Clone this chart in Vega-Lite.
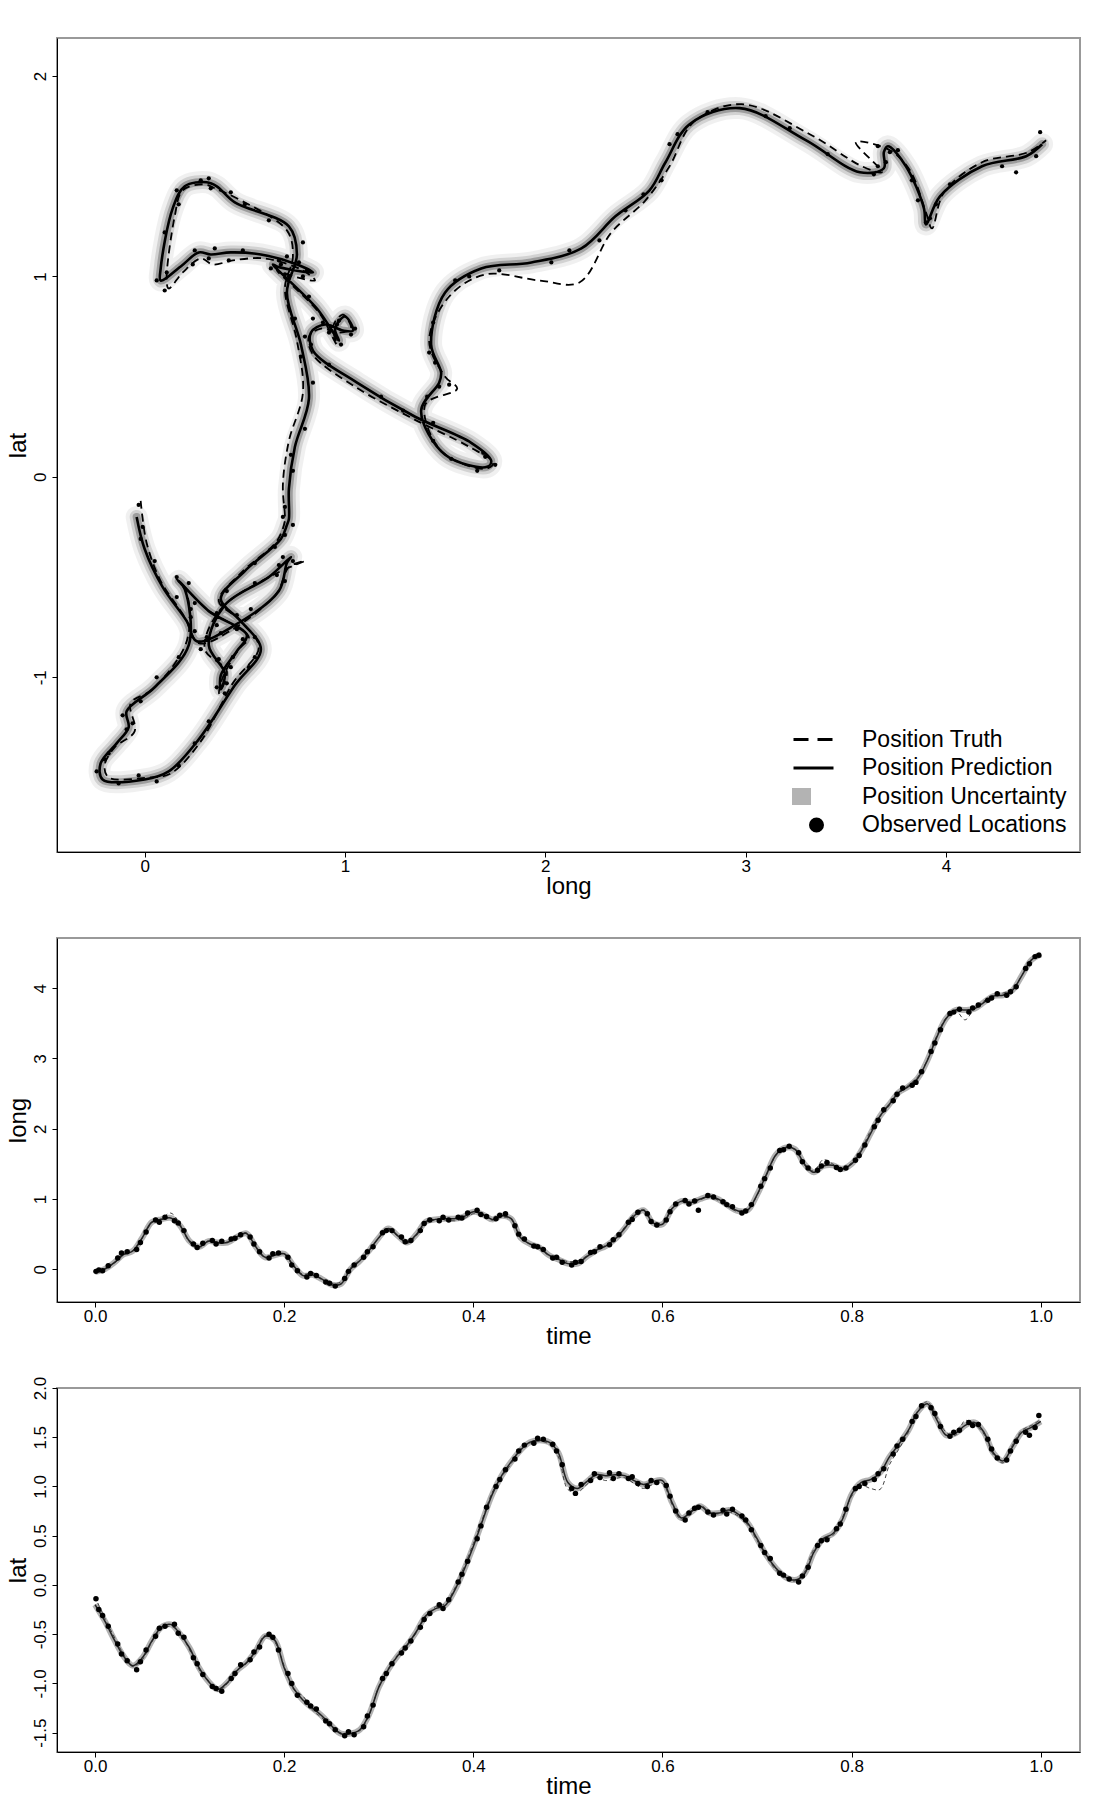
{
"$schema": "https://vega.github.io/schema/vega-lite/v6.json",
"padding": {"left": 4, "top": 37, "right": 5, "bottom": 5},
"vconcat": [
{
"width": 1023, "height": 814,
"encoding": {
 "x": {"field": "long", "type": "quantitative", "scale": {"domain": [-0.4376, 4.669], "nice": false, "zero": false}, "axis": {"values": [0, 1, 2, 3, 4], "title": "long", "labelExpr": "replace(format(datum.value, 'd'), '\u2212', '-')"}},
 "y": {"field": "lat", "type": "quantitative", "scale": {"domain": [-1.872, 2.19], "nice": false, "zero": false}, "axis": {"values": [-1, 0, 1, 2], "title": "lat", "labelExpr": "replace(format(datum.value, 'd'), '\u2212', '-')"}},
 "order": {"field": "time", "type": "quantitative"}
},
"layer": [
 {"data": {"name": "pred"}, "mark": {"type": "line", "interpolate": "catmull-rom", "color": "#000000", "strokeWidth": 22, "opacity": 0.06, "strokeCap": "round", "strokeJoin": "round"}},
 {"data": {"name": "pred"}, "mark": {"type": "line", "interpolate": "catmull-rom", "color": "#000000", "strokeWidth": 14, "opacity": 0.12, "strokeCap": "round", "strokeJoin": "round"}},
 {"data": {"name": "pred"}, "mark": {"type": "line", "interpolate": "catmull-rom", "color": "#000000", "strokeWidth": 8, "opacity": 0.25, "strokeCap": "round", "strokeJoin": "round"}},
 {"data": {"name": "truth"}, "mark": {"type": "line", "interpolate": "catmull-rom", "strokeWidth": 1.8, "strokeDash": [8, 5]},
  "encoding": {"color": {"datum": "Position Truth", "type": "nominal",
   "scale": {"domain": ["Position Truth", "Position Prediction", "Position Uncertainty", "Observed Locations"], "range": ["#000000", "#000000", "#b3b3b3", "#000000"]},
   "legend": {"orient": "none", "legendX": 735, "legendY": 690, "title": null, "padding": 0, "labelFont": "Liberation Sans", "labelFontSize": 23, "labelColor": "#000000", "labelOffset": 47, "labelLimit": 400, "symbolSize": 400, "rowPadding": 1.5, "gridAlign": "all", "symbolStrokeWidth": 3,
    "encode": {"symbols": {"update": {
     "shape": {"signal": "datum.value === 'Position Uncertainty' ? 'M-1,-0.7H0.6V0.7H-1Z' : datum.value === 'Observed Locations' ? 'M0.7,0A0.6,0.6,0,1,1,1.9,0A0.6,0.6,0,1,1,0.7,0Z' : 'M-1,0H3'"},
     "fill": {"signal": "datum.value === 'Position Uncertainty' ? '#b3b3b3' : datum.value === 'Observed Locations' ? '#000000' : 'transparent'"},
     "stroke": {"signal": "datum.value === 'Position Truth' || datum.value === 'Position Prediction' ? '#000000' : 'transparent'"},
     "strokeDash": {"signal": "datum.value === 'Position Truth' ? [15, 9] : []"},
     "strokeWidth": {"value": 3},
     "size": {"value": 400},
     "opacity": {"value": 1}
    }}}
   }}}},
 {"data": {"name": "pred"}, "mark": {"type": "line", "interpolate": "catmull-rom", "strokeWidth": 2.6}, "encoding": {"color": {"datum": "Position Prediction", "type": "nominal"}}},
 {"data": {"name": "obs"}, "mark": {"type": "circle", "size": 18, "opacity": 1}, "encoding": {"color": {"datum": "Observed Locations", "type": "nominal"}}}
]
},
{
"width": 1023, "height": 364,
"encoding": {
 "x": {"field": "time", "type": "quantitative", "scale": {"domain": [-0.0402, 1.0415], "nice": false, "zero": false}, "axis": {"values": [0, 0.2, 0.4, 0.6, 0.8, 1], "format": ".1f", "title": "time"}},
 "y": {"field": "long", "type": "quantitative", "scale": {"domain": [-0.466, 4.715], "nice": false, "zero": false}, "axis": {"values": [0, 1, 2, 3, 4], "format": "d", "title": "long"}},
 "order": {"field": "time", "type": "quantitative"}
},
"layer": [
 {"data": {"name": "pred"}, "mark": {"type": "line", "interpolate": "catmull-rom", "color": "#aaaaaa", "strokeWidth": 6, "opacity": 0.9}},
 {"data": {"name": "truth"}, "mark": {"type": "line", "interpolate": "catmull-rom", "color": "#444444", "strokeWidth": 1, "strokeDash": [4, 3]}},
 {"data": {"name": "pred"}, "mark": {"type": "line", "interpolate": "catmull-rom", "color": "#222222", "strokeWidth": 1.5}},
 {"data": {"name": "obs"}, "mark": {"type": "circle", "size": 30, "color": "#000000", "opacity": 1}}
]
},
{
"width": 1023, "height": 364,
"encoding": {
 "x": {"field": "time", "type": "quantitative", "scale": {"domain": [-0.0402, 1.0415], "nice": false, "zero": false}, "axis": {"values": [0, 0.2, 0.4, 0.6, 0.8, 1], "format": ".1f", "title": "time"}},
 "y": {"field": "lat", "type": "quantitative", "scale": {"domain": [-1.696, 2.0], "nice": false, "zero": false}, "axis": {"values": [-1.5, -1, -0.5, 0, 0.5, 1, 1.5, 2], "title": "lat", "labelExpr": "replace(format(datum.value, '.1f'), '\u2212', '-')"}},
 "order": {"field": "time", "type": "quantitative"}
},
"layer": [
 {"data": {"name": "pred"}, "mark": {"type": "line", "interpolate": "catmull-rom", "color": "#aaaaaa", "strokeWidth": 6, "opacity": 0.9}},
 {"data": {"name": "truth"}, "mark": {"type": "line", "interpolate": "catmull-rom", "color": "#444444", "strokeWidth": 1, "strokeDash": [4, 3]}},
 {"data": {"name": "pred"}, "mark": {"type": "line", "interpolate": "catmull-rom", "color": "#222222", "strokeWidth": 1.5}},
 {"data": {"name": "obs"}, "mark": {"type": "circle", "size": 30, "color": "#000000", "opacity": 1}}
]
}
],
"spacing": 86,
"bounds": "flush",
"config": {
 "font": "Liberation Sans",
 "view": {"stroke": "#999999", "strokeWidth": 2},
 "axis": {"grid": false, "labelFont": "Liberation Sans", "labelFontSize": 17, "labelColor": "#000000", "titleFont": "Liberation Sans", "titleFontSize": 24, "titleFontWeight": "normal", "titleColor": "#000000", "tickColor": "#000000", "tickSize": 5, "domainColor": "#000000", "labelPadding": 1},
 "axisY": {"labelAngle": 270, "titlePadding": 1, "labelPadding": 3},
 "axisX": {"titlePadding": 0}
},
"datasets": {
"pred": [
{"time":0.00,"long":-0.04,"lat":-0.20},{"time":0.01,"long":0.00,"lat":-0.36},{"time":0.02,"long":0.09,"lat":-0.55},{"time":0.03,"long":0.21,"lat":-0.72},{"time":0.04,"long":0.26,"lat":-0.82},
{"time":0.05,"long":0.45,"lat":-0.74},{"time":0.06,"long":0.67,"lat":-0.57},{"time":0.07,"long":0.71,"lat":-0.43},{"time":0.08,"long":0.73,"lat":-0.40},{"time":0.09,"long":0.62,"lat":-0.50},
{"time":0.10,"long":0.40,"lat":-0.64},{"time":0.11,"long":0.32,"lat":-0.84},{"time":0.12,"long":0.40,"lat":-0.98},{"time":0.13,"long":0.38,"lat":-1.06},{"time":0.14,"long":0.38,"lat":-0.99},
{"time":0.15,"long":0.46,"lat":-0.87},{"time":0.16,"long":0.51,"lat":-0.79},{"time":0.17,"long":0.32,"lat":-0.67},{"time":0.18,"long":0.17,"lat":-0.52},{"time":0.19,"long":0.20,"lat":-0.56},
{"time":0.20,"long":0.22,"lat":-0.84},{"time":0.21,"long":0.05,"lat":-1.05},{"time":0.22,"long":-0.09,"lat":-1.17},{"time":0.23,"long":-0.08,"lat":-1.25},{"time":0.24,"long":-0.14,"lat":-1.33},
{"time":0.25,"long":-0.22,"lat":-1.43},{"time":0.26,"long":-0.21,"lat":-1.51},{"time":0.27,"long":0.00,"lat":-1.51},{"time":0.28,"long":0.12,"lat":-1.47},{"time":0.29,"long":0.27,"lat":-1.31},
{"time":0.30,"long":0.45,"lat":-1.04},{"time":0.31,"long":0.58,"lat":-0.86},{"time":0.32,"long":0.48,"lat":-0.72},{"time":0.33,"long":0.38,"lat":-0.61},{"time":0.34,"long":0.50,"lat":-0.47},
{"time":0.35,"long":0.68,"lat":-0.31},{"time":0.36,"long":0.71,"lat":-0.24},{"time":0.37,"long":0.72,"lat":-0.21},{"time":0.38,"long":0.72,"lat":-0.06},{"time":0.39,"long":0.75,"lat":0.15},
{"time":0.40,"long":0.82,"lat":0.39},{"time":0.41,"long":0.78,"lat":0.66},{"time":0.42,"long":0.71,"lat":0.92},{"time":0.43,"long":0.76,"lat":1.11},{"time":0.44,"long":0.72,"lat":1.25},
{"time":0.45,"long":0.45,"lat":1.37},{"time":0.46,"long":0.36,"lat":1.45},{"time":0.47,"long":0.31,"lat":1.47},{"time":0.48,"long":0.20,"lat":1.45},{"time":0.49,"long":0.14,"lat":1.34},
{"time":0.50,"long":0.08,"lat":1.04},{"time":0.51,"long":0.08,"lat":0.98},{"time":0.52,"long":0.18,"lat":1.05},{"time":0.53,"long":0.27,"lat":1.12},{"time":0.54,"long":0.33,"lat":1.11},
{"time":0.55,"long":0.43,"lat":1.12},{"time":0.56,"long":0.58,"lat":1.11},{"time":0.57,"long":0.76,"lat":1.06},{"time":0.58,"long":0.84,"lat":1.02},{"time":0.59,"long":0.66,"lat":1.05},
{"time":0.60,"long":0.64,"lat":1.06},{"time":0.61,"long":0.86,"lat":0.84},{"time":0.62,"long":0.97,"lat":0.68},{"time":0.63,"long":0.95,"lat":0.74},{"time":0.64,"long":1.00,"lat":0.80},
{"time":0.65,"long":1.04,"lat":0.73},{"time":0.66,"long":0.99,"lat":0.73},{"time":0.67,"long":0.90,"lat":0.76},{"time":0.68,"long":0.83,"lat":0.72},{"time":0.69,"long":0.84,"lat":0.63},
{"time":0.70,"long":1.06,"lat":0.47},{"time":0.71,"long":1.35,"lat":0.30},{"time":0.72,"long":1.63,"lat":0.17},{"time":0.73,"long":1.73,"lat":0.08},{"time":0.74,"long":1.71,"lat":0.05},
{"time":0.75,"long":1.50,"lat":0.11},{"time":0.76,"long":1.38,"lat":0.33},{"time":0.77,"long":1.47,"lat":0.47},{"time":0.78,"long":1.48,"lat":0.52},{"time":0.79,"long":1.43,"lat":0.66},
{"time":0.80,"long":1.50,"lat":0.92},{"time":0.81,"long":1.68,"lat":1.04},{"time":0.82,"long":1.93,"lat":1.07},{"time":0.83,"long":2.18,"lat":1.14},{"time":0.84,"long":2.35,"lat":1.30},
{"time":0.85,"long":2.52,"lat":1.43},{"time":0.86,"long":2.60,"lat":1.57},{"time":0.87,"long":2.72,"lat":1.76},{"time":0.88,"long":2.97,"lat":1.84},{"time":0.89,"long":3.30,"lat":1.68},
{"time":0.90,"long":3.57,"lat":1.52},{"time":0.91,"long":3.69,"lat":1.54},{"time":0.92,"long":3.69,"lat":1.62},{"time":0.93,"long":3.71,"lat":1.65},{"time":0.94,"long":3.80,"lat":1.55},
{"time":0.95,"long":3.89,"lat":1.34},{"time":0.96,"long":3.90,"lat":1.26},{"time":0.97,"long":3.97,"lat":1.40},{"time":0.98,"long":4.18,"lat":1.55},{"time":0.99,"long":4.40,"lat":1.60},
{"time":1.00,"long":4.48,"lat":1.66}
],
"truth": [
{"time":0.00,"long":-0.02,"lat":-0.12},{"time":0.01,"long":0.01,"lat":-0.33},{"time":0.02,"long":0.08,"lat":-0.52},{"time":0.03,"long":0.20,"lat":-0.70},{"time":0.04,"long":0.27,"lat":-0.83},
{"time":0.05,"long":0.44,"lat":-0.76},{"time":0.06,"long":0.66,"lat":-0.58},{"time":0.07,"long":0.72,"lat":-0.45},{"time":0.08,"long":0.80,"lat":-0.42},{"time":0.09,"long":0.64,"lat":-0.49},
{"time":0.10,"long":0.38,"lat":-0.66},{"time":0.11,"long":0.30,"lat":-0.86},{"time":0.12,"long":0.41,"lat":-0.97},{"time":0.13,"long":0.37,"lat":-1.08},{"time":0.14,"long":0.39,"lat":-1.00},
{"time":0.15,"long":0.47,"lat":-0.86},{"time":0.16,"long":0.52,"lat":-0.80},{"time":0.17,"long":0.31,"lat":-0.66},{"time":0.18,"long":0.16,"lat":-0.51},{"time":0.19,"long":0.21,"lat":-0.58},
{"time":0.20,"long":0.21,"lat":-0.82},{"time":0.21,"long":0.04,"lat":-1.06},{"time":0.22,"long":-0.07,"lat":-1.13},{"time":0.23,"long":-0.05,"lat":-1.27},{"time":0.24,"long":-0.15,"lat":-1.35},
{"time":0.25,"long":-0.20,"lat":-1.44},{"time":0.26,"long":-0.18,"lat":-1.50},{"time":0.27,"long":0.02,"lat":-1.50},{"time":0.28,"long":0.13,"lat":-1.48},{"time":0.29,"long":0.28,"lat":-1.32},
{"time":0.30,"long":0.44,"lat":-1.03},{"time":0.31,"long":0.57,"lat":-0.85},{"time":0.32,"long":0.47,"lat":-0.71},{"time":0.33,"long":0.37,"lat":-0.62},{"time":0.34,"long":0.48,"lat":-0.48},
{"time":0.35,"long":0.66,"lat":-0.32},{"time":0.36,"long":0.70,"lat":-0.22},{"time":0.37,"long":0.70,"lat":-0.19},{"time":0.38,"long":0.69,"lat":-0.04},{"time":0.39,"long":0.72,"lat":0.18},
{"time":0.40,"long":0.79,"lat":0.42},{"time":0.41,"long":0.76,"lat":0.68},{"time":0.42,"long":0.70,"lat":0.94},{"time":0.43,"long":0.74,"lat":1.10},{"time":0.44,"long":0.71,"lat":1.23},
{"time":0.45,"long":0.46,"lat":1.39},{"time":0.46,"long":0.35,"lat":1.44},{"time":0.47,"long":0.30,"lat":1.46},{"time":0.48,"long":0.19,"lat":1.43},{"time":0.49,"long":0.15,"lat":1.30},
{"time":0.50,"long":0.11,"lat":0.97},{"time":0.51,"long":0.12,"lat":0.94},{"time":0.52,"long":0.19,"lat":1.02},{"time":0.53,"long":0.28,"lat":1.09},{"time":0.54,"long":0.34,"lat":1.06},
{"time":0.55,"long":0.44,"lat":1.08},{"time":0.56,"long":0.60,"lat":1.09},{"time":0.57,"long":0.79,"lat":1.03},{"time":0.58,"long":0.85,"lat":0.98},{"time":0.59,"long":0.68,"lat":1.02},
{"time":0.60,"long":0.66,"lat":1.03},{"time":0.61,"long":0.87,"lat":0.82},{"time":0.62,"long":0.96,"lat":0.66},{"time":0.63,"long":0.94,"lat":0.75},{"time":0.64,"long":0.99,"lat":0.81},
{"time":0.65,"long":1.03,"lat":0.74},{"time":0.66,"long":0.97,"lat":0.72},{"time":0.67,"long":0.88,"lat":0.74},{"time":0.68,"long":0.82,"lat":0.70},{"time":0.69,"long":0.84,"lat":0.61},
{"time":0.70,"long":1.05,"lat":0.45},{"time":0.71,"long":1.34,"lat":0.29},{"time":0.72,"long":1.62,"lat":0.15},{"time":0.73,"long":1.74,"lat":0.07},{"time":0.74,"long":1.70,"lat":0.04},
{"time":0.75,"long":1.48,"lat":0.13},{"time":0.76,"long":1.40,"lat":0.36},{"time":0.77,"long":1.56,"lat":0.44},{"time":0.78,"long":1.50,"lat":0.50},{"time":0.79,"long":1.42,"lat":0.68},
{"time":0.80,"long":1.52,"lat":0.90},{"time":0.81,"long":1.70,"lat":1.01},{"time":0.82,"long":1.97,"lat":0.98},{"time":0.83,"long":2.17,"lat":0.97},{"time":0.84,"long":2.33,"lat":1.22},
{"time":0.85,"long":2.50,"lat":1.38},{"time":0.86,"long":2.62,"lat":1.55},{"time":0.87,"long":2.74,"lat":1.77},{"time":0.88,"long":2.98,"lat":1.86},{"time":0.89,"long":3.32,"lat":1.71},
{"time":0.90,"long":3.58,"lat":1.55},{"time":0.91,"long":3.68,"lat":1.52},{"time":0.92,"long":3.55,"lat":1.67},{"time":0.93,"long":3.72,"lat":1.63},{"time":0.94,"long":3.82,"lat":1.53},
{"time":0.95,"long":3.90,"lat":1.32},{"time":0.96,"long":3.93,"lat":1.24},{"time":0.97,"long":3.99,"lat":1.42},{"time":0.98,"long":4.18,"lat":1.57},{"time":0.99,"long":4.41,"lat":1.62},
{"time":1.00,"long":4.50,"lat":1.68}
],
"obs": [
{"time":0.001,"long":-0.03,"lat":-0.14},{"time":0.004,"long":-0.01,"lat":-0.25},{"time":0.008,"long":-0.02,"lat":-0.31},{"time":0.014,"long":0.05,"lat":-0.42},{"time":0.024,"long":0.16,"lat":-0.60},
{"time":0.028,"long":0.23,"lat":-0.70},{"time":0.034,"long":0.25,"lat":-0.77},{"time":0.044,"long":0.28,"lat":-0.86},{"time":0.048,"long":0.38,"lat":-0.78},{"time":0.054,"long":0.53,"lat":-0.66},
{"time":0.064,"long":0.70,"lat":-0.52},{"time":0.068,"long":0.67,"lat":-0.44},{"time":0.074,"long":0.74,"lat":-0.42},{"time":0.084,"long":0.69,"lat":-0.40},{"time":0.088,"long":0.66,"lat":-0.49},
{"time":0.094,"long":0.55,"lat":-0.53},{"time":0.104,"long":0.36,"lat":-0.74},{"time":0.108,"long":0.31,"lat":-0.80},{"time":0.114,"long":0.37,"lat":-0.91},{"time":0.124,"long":0.41,"lat":-1.03},
{"time":0.128,"long":0.36,"lat":-1.05},{"time":0.134,"long":0.40,"lat":-1.08},{"time":0.144,"long":0.43,"lat":-0.95},{"time":0.148,"long":0.44,"lat":-0.90},{"time":0.154,"long":0.49,"lat":-0.81},
{"time":0.164,"long":0.46,"lat":-0.76},{"time":0.168,"long":0.36,"lat":-0.68},{"time":0.174,"long":0.25,"lat":-0.63},{"time":0.184,"long":0.16,"lat":-0.50},{"time":0.188,"long":0.22,"lat":-0.53},
{"time":0.194,"long":0.23,"lat":-0.66},{"time":0.204,"long":0.17,"lat":-0.90},{"time":0.208,"long":0.06,"lat":-1.00},{"time":0.214,"long":-0.02,"lat":-1.12},{"time":0.224,"long":-0.11,"lat":-1.19},
{"time":0.228,"long":-0.06,"lat":-1.23},{"time":0.234,"long":-0.09,"lat":-1.26},{"time":0.244,"long":-0.18,"lat":-1.38},{"time":0.248,"long":-0.20,"lat":-1.41},{"time":0.254,"long":-0.24,"lat":-1.47},
{"time":0.264,"long":-0.13,"lat":-1.53},{"time":0.268,"long":-0.03,"lat":-1.49},{"time":0.274,"long":0.06,"lat":-1.52},{"time":0.284,"long":0.17,"lat":-1.44},{"time":0.288,"long":0.25,"lat":-1.33},
{"time":0.294,"long":0.32,"lat":-1.22},{"time":0.304,"long":0.52,"lat":-0.95},{"time":0.308,"long":0.55,"lat":-0.90},{"time":0.314,"long":0.55,"lat":-0.80},{"time":0.324,"long":0.46,"lat":-0.69},
{"time":0.328,"long":0.39,"lat":-0.64},{"time":0.334,"long":0.41,"lat":-0.57},{"time":0.344,"long":0.55,"lat":-0.43},{"time":0.348,"long":0.65,"lat":-0.35},{"time":0.354,"long":0.70,"lat":-0.29},
{"time":0.364,"long":0.69,"lat":-0.20},{"time":0.368,"long":0.74,"lat":-0.24},{"time":0.374,"long":0.70,"lat":-0.15},{"time":0.384,"long":0.74,"lat":0.03},{"time":0.388,"long":0.73,"lat":0.11},
{"time":0.394,"long":0.80,"lat":0.24},{"time":0.404,"long":0.84,"lat":0.47},{"time":0.408,"long":0.78,"lat":0.60},{"time":0.414,"long":0.75,"lat":0.79},{"time":0.424,"long":0.72,"lat":1.00},
{"time":0.428,"long":0.77,"lat":1.07},{"time":0.434,"long":0.79,"lat":1.17},{"time":0.444,"long":0.62,"lat":1.28},{"time":0.448,"long":0.50,"lat":1.36},{"time":0.454,"long":0.43,"lat":1.42},
{"time":0.464,"long":0.33,"lat":1.44},{"time":0.468,"long":0.32,"lat":1.49},{"time":0.474,"long":0.28,"lat":1.48},{"time":0.484,"long":0.16,"lat":1.43},{"time":0.488,"long":0.17,"lat":1.36},
{"time":0.494,"long":0.10,"lat":1.22},{"time":0.504,"long":0.06,"lat":0.98},{"time":0.508,"long":0.10,"lat":0.93},{"time":0.514,"long":0.11,"lat":1.02},{"time":0.524,"long":0.24,"lat":1.06},
{"time":0.528,"long":0.25,"lat":1.13},{"time":0.534,"long":0.32,"lat":1.09},{"time":0.544,"long":0.35,"lat":1.14},{"time":0.548,"long":0.42,"lat":1.08},{"time":0.554,"long":0.49,"lat":1.13},
{"time":0.564,"long":0.67,"lat":1.08},{"time":0.568,"long":0.71,"lat":1.10},{"time":0.574,"long":0.81,"lat":1.03},{"time":0.584,"long":0.79,"lat":1.00},{"time":0.588,"long":0.68,"lat":1.06},
{"time":0.594,"long":0.63,"lat":1.04},{"time":0.604,"long":0.70,"lat":1.01},{"time":0.608,"long":0.82,"lat":0.90},{"time":0.614,"long":0.93,"lat":0.75},{"time":0.624,"long":0.98,"lat":0.66},
{"time":0.628,"long":0.93,"lat":0.73},{"time":0.634,"long":0.97,"lat":0.78},{"time":0.638,"long":0.84,"lat":0.79},{"time":0.648,"long":1.05,"lat":0.74},{"time":0.654,"long":1.03,"lat":0.71},
{"time":0.664,"long":0.96,"lat":0.76},{"time":0.668,"long":0.92,"lat":0.72},{"time":0.674,"long":0.89,"lat":0.77},{"time":0.684,"long":0.80,"lat":0.70},{"time":0.688,"long":0.83,"lat":0.66},
{"time":0.694,"long":0.92,"lat":0.56},{"time":0.704,"long":1.18,"lat":0.40},{"time":0.708,"long":1.29,"lat":0.33},{"time":0.714,"long":1.44,"lat":0.27},{"time":0.724,"long":1.69,"lat":0.12},
{"time":0.728,"long":1.70,"lat":0.10},{"time":0.734,"long":1.75,"lat":0.06},{"time":0.744,"long":1.66,"lat":0.03},{"time":0.748,"long":1.53,"lat":0.09},{"time":0.754,"long":1.44,"lat":0.18},
{"time":0.764,"long":1.41,"lat":0.40},{"time":0.768,"long":1.47,"lat":0.45},{"time":0.774,"long":1.52,"lat":0.46},{"time":0.784,"long":1.45,"lat":0.57},{"time":0.788,"long":1.42,"lat":0.62},
{"time":0.794,"long":1.44,"lat":0.77},{"time":0.804,"long":1.55,"lat":0.98},{"time":0.808,"long":1.62,"lat":1.00},{"time":0.814,"long":1.77,"lat":1.03},{"time":0.824,"long":2.03,"lat":1.07},
{"time":0.828,"long":2.12,"lat":1.13},{"time":0.834,"long":2.27,"lat":1.18},{"time":0.844,"long":2.40,"lat":1.33},{"time":0.848,"long":2.49,"lat":1.41},{"time":0.854,"long":2.58,"lat":1.48},
{"time":0.864,"long":2.62,"lat":1.66},{"time":0.868,"long":2.66,"lat":1.71},{"time":0.874,"long":2.81,"lat":1.82},{"time":0.884,"long":3.10,"lat":1.80},{"time":0.888,"long":3.22,"lat":1.74},
{"time":0.894,"long":3.41,"lat":1.61},{"time":0.904,"long":3.64,"lat":1.51},{"time":0.908,"long":3.66,"lat":1.55},{"time":0.914,"long":3.70,"lat":1.57},{"time":0.924,"long":3.66,"lat":1.65},
{"time":0.928,"long":3.72,"lat":1.62},{"time":0.934,"long":3.76,"lat":1.63},{"time":0.944,"long":3.83,"lat":1.48},{"time":0.948,"long":3.86,"lat":1.38},{"time":0.954,"long":3.92,"lat":1.29},
{"time":0.964,"long":3.90,"lat":1.27},{"time":0.968,"long":3.95,"lat":1.36},{"time":0.974,"long":4.02,"lat":1.46},{"time":0.984,"long":4.28,"lat":1.55},{"time":0.988,"long":4.35,"lat":1.52},
{"time":0.994,"long":4.45,"lat":1.60},{"time":0.998,"long":4.47,"lat":1.72}
]
}
}
